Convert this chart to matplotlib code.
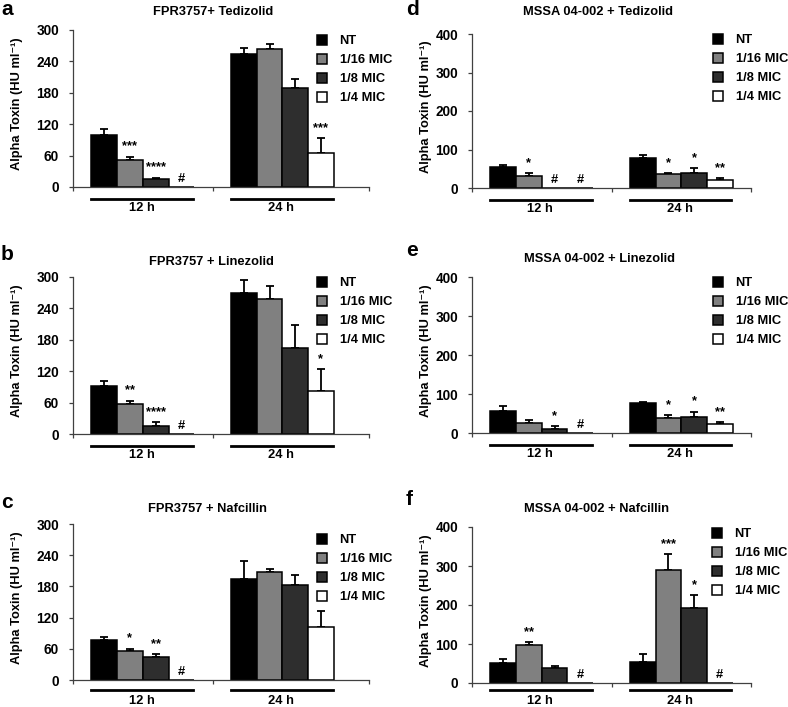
import matplotlib
matplotlib.use('Agg')
import matplotlib.pyplot as plt
import matplotlib.transforms as mtrans
from matplotlib.patches import Patch
import numpy as np

plt.rcParams['font.family'] = ['Liberation Sans', 'DejaVu Sans']
plt.rcParams['font.weight'] = 'bold'

groups = ['NT', '1/16 MIC', '1/8 MIC', '1/4 MIC']
times = ['12 h', '24 h']
colors = ['#000000', '#808080', '#2e2e2e', '#ffffff']

# means / upper error per time point (12 h, 24 h), order NT, 1/16, 1/8, 1/4
a_mean = [[100, 51, 16, 0], [255, 263, 189, 65]]
a_err = [[10, 7, 2, 0], [10, 10, 18, 28]]
a_mark = [['', '***', '****', '#'], ['', '', '', '***']]

b_mean = [[92, 57, 16, 0], [270, 258, 165, 83]]
b_err = [[9, 7, 6, 0], [24, 24, 43, 41]]
b_mark = [['', '**', '****', '#'], ['', '', '', '*']]

c_mean = [[77, 56, 44, 0], [194, 207, 183, 101]]
c_err = [[5, 4, 6, 0], [35, 6, 19, 31]]
c_mark = [['', '*', '**', '#'], ['', '', '', '']]

d_mean = [[55, 30, 0, 0], [78, 36, 40, 22]]
d_err = [[6, 8, 0, 0], [8, 3, 12, 3]]
d_mark = [['', '*', '#', '#'], ['', '*', '*', '**']]

e_mean = [[56, 26, 9, 0], [77, 39, 40, 24]]
e_err = [[14, 8, 9, 0], [2, 6, 15, 4]]
e_mark = [['', '', '*', '#'], ['', '*', '*', '**']]

f_mean = [[51, 97, 38, 0], [55, 291, 192, 0]]
f_err = [[11, 7, 5, 0], [19, 39, 34, 0]]
f_mark = [['', '**', '', '#'], ['', '***', '*', '#']]

titles = ['FPR3757+ Tedizolid', 'FPR3757 + Linezolid', 'FPR3757 + Nafcillin',
          'MSSA 04-002 + Tedizolid', 'MSSA 04-002 + Linezolid', 'MSSA 04-002 + Nafcillin']
letters = ['a', 'b', 'c', 'd', 'e', 'f']

W, H = 788, 707
fig = plt.figure(figsize=(W / 100, H / 100), dpi=100)

# pixel layout: (left, right, top, bottom), title (x, baseline), letter (x, baseline),
# legend (x, top), y max, x right, underline offset, category label offset
panels = [
    (a_mean, a_err, a_mark, (73, 369, 30, 187), (213, 15), (1, 15), (317, 33), 300, 1.62, 12, 21),
    (b_mean, b_err, b_mark, (73, 369, 277, 434), (211, 265), (1, 260), (317, 275), 300, 1.62, 12, 21),
    (c_mean, c_err, c_mark, (73, 369, 524, 680), (207, 512), (1, 508), (317, 532), 300, 1.62, 10, 20.5),
    (d_mean, d_err, d_mark, (472, 751, 34, 188), (598, 15), (406, 15), (713, 32), 400, 1.5, 12, 21),
    (e_mean, e_err, e_mark, (472, 751, 277, 433), (599, 262), (406, 256), (713, 275), 400, 1.5, 12, 21),
    (f_mean, f_err, f_mark, (472, 751, 527, 683), (596, 512), (406, 505), (712, 526), 400, 1.5, 7, 18),
]

fs = 9.3
w = 0.184
spine_c = '#404040'

for k, (mean, err, mark, box, tpos, lpos, legpos, ymax, xright, line_off, cat_off) in enumerate(panels):
    l, r, t, b = box
    ax = fig.add_axes([l / W, 1 - b / H, (r - l) / W, (b - t) / H])
    for i in range(4):
        xs = np.arange(2) + (i - 1.5) * w
        m = np.array([mean[0][i], mean[1][i]])
        e = np.array([err[0][i], err[1][i]])
        ax.bar(xs, m, w, color=colors[i], edgecolor='black', linewidth=1.1, zorder=2)
        sel = e > 0
        if sel.any():
            ax.errorbar(xs[sel], m[sel], yerr=[np.zeros(sel.sum()), e[sel]], fmt='none',
                        ecolor='black', elinewidth=1.3, capsize=3, capthick=1.3, zorder=1)
        for j in range(2):
            s = mark[j][i]
            if s:
                off = 1.5 if s == '#' else 3
                ax.annotate(s, xy=(xs[j], m[j] + e[j]), xytext=(0, off),
                            textcoords='offset points', ha='center', va='bottom',
                            fontsize=fs, fontweight='bold')

    ax.set_xlim(-0.5, xright)
    ax.set_ylim(0, ymax)
    ax.set_yticks(np.linspace(0, ymax, 6 if ymax == 300 else 5))
    ax.set_xticks([-0.5, 0.5, xright])
    ax.set_xticklabels([])
    for side in ['top', 'right']:
        ax.spines[side].set_visible(False)
    for side in ['left', 'bottom']:
        ax.spines[side].set_color(spine_c)
        ax.spines[side].set_linewidth(0.9)
    ax.tick_params(axis='both', direction='out', length=3, width=0.9, color=spine_c,
                   labelsize=9.8, pad=7)
    for lab in ax.get_yticklabels():
        lab.set_fontweight('bold')
    ax.set_ylabel('Alpha Toxin (HU ml⁻¹)', fontsize=fs, fontweight='bold')
    ax.yaxis.set_label_coords(-0.169 if k < 3 else -0.143, 0.53)

    # category underline and label
    base = mtrans.blended_transform_factory(ax.transData, ax.transAxes)
    tr_line = base + mtrans.ScaledTranslation(0, -line_off / 100, fig.dpi_scale_trans)
    tr_text = base + mtrans.ScaledTranslation(0, -cat_off / 100, fig.dpi_scale_trans)
    for j, name in enumerate(times):
        ax.plot([j - 0.37, j + 0.36], [0, 0], color='black', lw=2,
                transform=tr_line, clip_on=False)
        ax.text(j - 0.01, 0, name, transform=tr_text, ha='center', va='center',
                fontsize=fs, fontweight='bold')

    handles = [Patch(facecolor=colors[i], edgecolor='black', linewidth=1.1) for i in range(4)]
    ax.legend(handles, groups, loc='upper left',
              bbox_to_anchor=(legpos[0] / W, 1 - (legpos[1] + 2) / H),
              bbox_transform=fig.transFigure, frameon=False,
              handlelength=0.8, handleheight=0.8, handletextpad=0.95,
              labelspacing=0.5, borderpad=0, borderaxespad=0,
              prop={'weight': 'bold', 'size': fs})

    fig.text(tpos[0] / W, 1 - tpos[1] / H, titles[k], ha='center', va='baseline',
             fontsize=fs, fontweight='bold')
    fig.text(lpos[0] / W, 1 - lpos[1] / H, letters[k], ha='left', va='baseline',
             fontsize=15, fontweight='bold')

fig.savefig('out.png', dpi=100)
